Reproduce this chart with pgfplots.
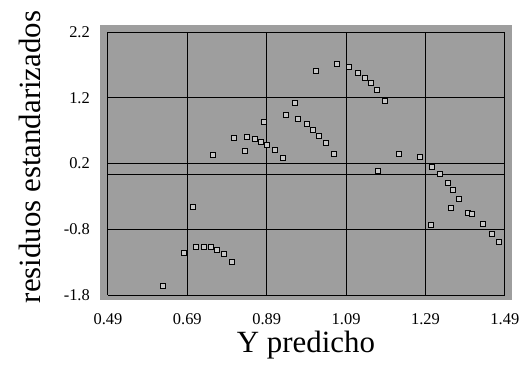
\documentclass[border=0pt]{standalone}
\usepackage{pgfplots}
\pgfplotsset{compat=1.18}
\usepackage{fontspec}
\setmainfont{Liberation Serif}
\definecolor{bg}{RGB}{158,158,158}
\begin{document}
\begin{tikzpicture}
\begin{axis}[
  scale only axis, width=412bp, height=275bp,
  xmin=0.47, xmax=1.508, ymin=-1.876, ymax=2.306,
  axis background/.style={fill=bg},
  axis line style={draw=none},
  xtick={0.49,0.69,0.89,1.09,1.29,1.49},
  ytick={-1.8,-0.8,0.2,1.2,2.2},
  xticklabels={0.49,0.69,0.89,1.09,1.29,1.49},
  yticklabels={-1.8,-0.8,0.2,1.2,2.2},
  major tick length=0pt,
  tick style={draw=none},
  xticklabel style={font=\fontsize{16.5}{19}\selectfont, anchor=center, yshift=-19bp},
  yticklabel style={font=\fontsize{16.5}{19}\selectfont, anchor=east, inner sep=0pt, xshift=-10bp},
  xlabel={Y predicho},
  ylabel={residuos estandarizados},
  xlabel style={font=\fontsize{31}{36}\selectfont, at={(axis description cs:0.5,-0.164)}, anchor=center},
  ylabel style={font=\fontsize{31}{36}\selectfont, at={(axis description cs:-0.17,0.52)}, anchor=center, rotate=0},
  clip=false,
]
\pgfplotsinvokeforeach{0.49,0.69,0.89,1.09,1.29,1.49}{
  \draw[black, line width=0.9pt] (axis cs:#1,-1.8) -- (axis cs:#1,2.2);
}
\pgfplotsinvokeforeach{-1.8,-0.8,0.2,1.2,2.2}{
  \draw[black, line width=0.9pt] (axis cs:0.49,#1) -- (axis cs:1.49,#1);
}
\draw[black, line width=1.3pt] (axis cs:0.49,0.03) -- (axis cs:1.49,0.03);
\addplot[only marks, mark=square*, mark size=2.5pt,
  mark options={fill=gray!45, draw=black, line width=1.1pt}]
  table {
x y
0.629 -1.663
0.681 -1.161
0.704 -0.462
0.712 -1.070
0.732 -1.070
0.749 -1.070
0.765 -1.116
0.782 -1.176
0.802 -1.298
0.754 0.329
0.807 0.588
0.835 0.390
0.840 0.603
0.860 0.573
0.875 0.527
0.883 0.831
0.891 0.481
0.911 0.405
0.931 0.284
0.938 0.938
0.961 1.120
0.969 0.877
0.991 0.801
1.006 0.710
1.021 0.618
1.039 0.512
1.059 0.344
1.014 1.607
1.067 1.713
1.097 1.668
1.120 1.576
1.137 1.500
1.152 1.424
1.168 1.318
1.188 1.151
1.170 0.086
1.223 0.344
1.276 0.299
1.306 0.147
1.326 0.040
1.346 -0.097
1.359 -0.203
1.374 -0.340
1.354 -0.477
1.397 -0.553
1.407 -0.568
1.435 -0.720
1.304 -0.735
1.457 -0.872
1.475 -0.994
};
\end{axis}
\pgfresetboundingbox
\path[use as bounding box] (current axis.south west) ++(-100bp,-67bp) rectangle ++(530bp,367bp);
\end{tikzpicture}
\end{document}
